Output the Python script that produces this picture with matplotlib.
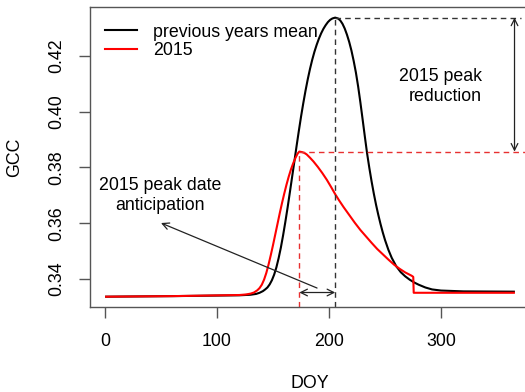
import numpy as np
import matplotlib
matplotlib.use("Agg")
import matplotlib.pyplot as plt

plt.rcParams['font.family'] = ['Liberation Sans', 'DejaVu Sans']

# previous years mean GCC curve (DOY, GCC)
doyMean = [1, 60, 120, 130, 135, 138, 141, 143, 145, 147, 149, 151, 153, 155, 157,
           159, 161, 163, 165, 167, 169, 171, 173, 175, 177, 179, 181, 183, 185, 187,
           189, 191, 193, 195, 197, 199, 201, 203, 205.5, 208, 210, 212, 214, 216,
           218, 220, 222, 224, 226, 228, 230, 232, 234, 236, 238, 240, 242, 244, 246,
           248, 250, 253, 256, 260, 264, 268, 272, 276, 280, 286, 292, 300, 320, 365]
gccMean = [0.3337, 0.3339, 0.3342, 0.3344, 0.3347, 0.3351, 0.3357, 0.3363, 0.3370,
           0.3381, 0.3396, 0.3416, 0.3442, 0.3475, 0.3513, 0.3557, 0.3605, 0.3656,
           0.3710, 0.3765, 0.3820, 0.3876, 0.3930, 0.3982, 0.4030, 0.4075, 0.4116,
           0.4153, 0.4186, 0.4215, 0.4240, 0.4262, 0.4281, 0.4297, 0.4310, 0.4321,
           0.4329, 0.4334, 0.4337, 0.4334, 0.4327, 0.4315, 0.4298, 0.4276, 0.4250,
           0.4219, 0.4182, 0.4140, 0.4090, 0.4033, 0.3972, 0.3910, 0.3850, 0.3798,
           0.3750, 0.3706, 0.3666, 0.3630, 0.3597, 0.3567, 0.3540, 0.3505, 0.3476,
           0.3446, 0.3425, 0.3410, 0.3398, 0.3388, 0.3380, 0.3370, 0.3363, 0.3359,
           0.3356, 0.3355]

# 2015 GCC curve
doy2015 = [1, 60, 120, 126, 130, 133, 136, 138, 140, 142, 144, 146, 148, 150, 152,
           154, 156, 158, 160, 162, 164, 166, 168, 170, 172, 173.5, 176, 178, 180,
           183, 186, 190, 194, 198, 202, 205.4, 209, 213, 218, 223, 228, 233, 238,
           243, 248, 253, 258, 263, 268, 273.8, 275.2, 275.6, 300, 365]
gcc2015 = [0.3337, 0.3339, 0.3343, 0.3345, 0.3348, 0.3352, 0.3360, 0.3368, 0.3380,
           0.3398, 0.3422, 0.3452, 0.3486, 0.3522, 0.3560, 0.3598, 0.3636, 0.3672,
           0.3706, 0.3738, 0.3767, 0.3793, 0.3815, 0.3834, 0.3850, 0.3857, 0.3855,
           0.3852, 0.3847, 0.3835, 0.3822, 0.3802, 0.3780, 0.3756, 0.3729, 0.3705,
           0.3682, 0.3658, 0.3630, 0.3602, 0.3576, 0.3553, 0.3530, 0.3508, 0.3489,
           0.3470, 0.3452, 0.3437, 0.3424, 0.3412, 0.3408, 0.3351, 0.3351, 0.3351]

seriesLabels = ['previous years mean', '2015']
xTicks = [0, 100, 200, 300]
yTicks = [0.34, 0.36, 0.38, 0.40, 0.42]
fs = 12.8

fig = plt.figure(figsize=(5.25, 3.92), dpi=100)
ax = fig.add_axes([0.1710, 0.2168, 0.8389, 0.7653])

ax.plot(doyMean, gccMean, color='black', lw=1.5, label=seriesLabels[0])
ax.plot(doy2015, gcc2015, color='#ff0000', lw=1.5, label=seriesLabels[1])

ax.set_xlim(-13.6, 379.6)
ax.set_ylim(0.3300, 0.4375)

# peaks of both curves
iM = int(np.argmax(gccMean))
i15 = int(np.argmax(gcc2015))
pkDoyM, pkM = doyMean[iM], gccMean[iM]
pkDoy15, pk15 = doy2015[i15], gcc2015[i15]
yBot = ax.get_ylim()[0]

ax.plot([pkDoyM, pkDoyM], [yBot, pkM], color='#333333', lw=1, dashes=(4, 3))
ax.plot([pkDoyM, 371], [pkM, pkM], color='#333333', lw=1, dashes=(4, 3))
ax.plot([pkDoy15, pkDoy15], [yBot, pk15], color='#e83030', lw=1, dashes=(4, 3))
ax.plot([pkDoy15, 375], [pk15, pk15], color='#e83030', lw=1, dashes=(4, 3))

arrowStyle = dict(arrowstyle='<->', color='#222222', lw=0.9, mutation_scale=12,
                  shrinkA=0, shrinkB=0)
ax.annotate('', xy=(365.6, pk15), xytext=(365.6, pkM), arrowprops=arrowStyle)
ax.annotate('', xy=(pkDoy15, 0.3352), xytext=(pkDoyM, 0.3352), arrowprops=arrowStyle)
ax.annotate('', xy=(50, 0.3601), xytext=(189.3, 0.3368),
            arrowprops=dict(arrowstyle='->', color='#222222', lw=0.9,
                            mutation_scale=12, shrinkA=0, shrinkB=0))

ax.text(336.6, 0.4090, '2015 peak\nreduction', ha='right', va='center',
        multialignment='right', fontsize=fs, linespacing=1.2)
ax.text(49, 0.3699, '2015 peak date\nanticipation', ha='center', va='center',
        multialignment='center', fontsize=fs, linespacing=1.2)

ax.legend(loc='upper left', bbox_to_anchor=(0.0345, 0.945), frameon=False,
          fontsize=fs, handlelength=1.8, handletextpad=0.9, labelspacing=0.1,
          borderpad=0, borderaxespad=0)

ax.set_xticks(xTicks)
ax.set_yticks(yTicks)
ax.set_yticklabels(['%.2f' % v for v in yTicks], rotation=90, va='center')
ax.tick_params(axis='both', length=8, width=1, color='#555555', labelsize=fs)
ax.tick_params(axis='x', pad=10.5)
ax.tick_params(axis='y', pad=9.5)
for sp in ax.spines.values():
    sp.set_color('#555555')
    sp.set_linewidth(1)

fig.text(15 / 525, 1 - 157 / 392, 'GCC', rotation=90, ha='center', va='center',
         fontsize=fs)
fig.text(310 / 525, 1 - 383 / 392, 'DOY', ha='center', va='center', fontsize=fs)

fig.savefig('out.png', dpi=100)
